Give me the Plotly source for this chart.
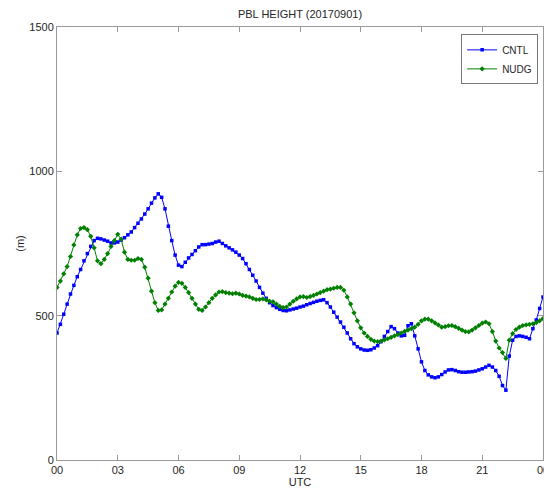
import plotly.graph_objects as go

# 10-minute time steps, 0h .. 24h
hours = [i / 6 for i in range(145)]

cntl = [
    440, 470, 505, 540, 575, 605,
    635, 660, 690, 715, 740, 760,
    768, 766, 762, 758, 752, 752,
    755, 762, 770, 780, 790, 805,
    820, 835, 852, 870, 890, 908,
    922, 910, 870, 810, 760, 710,
    675, 670, 685, 700, 712, 725,
    738, 746, 746, 748, 750, 755,
    758, 750, 742, 735, 728, 720,
    710, 698, 680, 660, 640, 620,
    598, 578, 560, 545, 535, 528,
    522, 518, 517, 520, 523, 526,
    530, 533, 538, 542, 546, 550,
    553, 555, 545, 530, 512, 495,
    478, 460, 440, 420, 403, 392,
    385, 381, 380, 382, 388, 396,
    410, 428, 445, 462, 455, 440,
    430, 432, 465, 472, 430, 385,
    340, 310, 295, 288, 285, 288,
    296, 305, 312, 313, 310, 306,
    304, 304, 305, 306, 308, 312,
    316, 322, 328, 322, 310, 290,
    258, 242, 360, 415, 428, 430,
    428, 425, 420, 455, 485, 525,
    565,
]

nudg = [
    598, 620, 645, 670, 705, 745,
    780, 802, 805, 798, 775, 735,
    690, 680, 695, 715, 740, 760,
    782, 765, 720, 695, 692, 692,
    698, 695, 668, 630, 585, 545,
    518, 520, 540, 560, 582, 602,
    615, 612, 598, 580, 560, 540,
    522, 518, 530, 545, 560, 572,
    582, 583, 580, 578, 576, 578,
    575, 570, 568, 565, 560, 556,
    556, 558, 555, 550, 548, 540,
    532, 528, 530, 540, 550, 558,
    565, 566, 563, 566, 570, 575,
    580, 585, 590, 592, 595, 598,
    598, 588, 565, 540, 510, 482,
    458, 440, 428, 418, 412, 410,
    412, 416, 420, 425, 430, 434,
    440, 446, 450, 455, 460, 470,
    482, 488, 488, 482, 475, 468,
    460, 462, 465, 466, 462, 456,
    450, 445, 444, 450, 458, 466,
    474, 478, 472, 445, 412, 388,
    372, 352, 415, 438, 452, 460,
    466, 468, 470, 472, 476, 482,
    490,
]

x_tick_vals = [0, 3, 6, 9, 12, 15, 18, 21, 24]
x_tick_text = ["00", "03", "06", "09", "12", "15", "18", "21", "00"]
y_tick_vals = [0, 500, 1000, 1500]

FONT = "Liberation Sans, Arial, sans-serif"

fig = go.Figure()
fig.add_trace(go.Scatter(
    x=hours, y=cntl, name="CNTL", mode="lines+markers",
    line=dict(color="#0000FF", width=1),
    marker=dict(symbol="square", size=3.5, color="#0000FF"),
))
fig.add_trace(go.Scatter(
    x=hours, y=nudg, name="NUDG", mode="lines+markers",
    line=dict(color="#008000", width=1),
    marker=dict(symbol="diamond", size=4, color="#008000"),
))

axis_common = dict(
    showline=True, linecolor="#9a9a9a", linewidth=1, mirror="ticks",
    ticks="inside", ticklen=5, tickcolor="#9a9a9a",
    showgrid=False, zeroline=False, automargin=False,
    ticklabeloverflow="allow",
    tickfont=dict(family=FONT, size=11, color="#262626"),
)

# page body has an 8px margin, so the figure is drawn 8px in from the corner
fig.update_layout(
    width=544, height=486,
    margin=dict(l=49, r=9, t=19, b=34, autoexpand=False),
    paper_bgcolor="white", plot_bgcolor="white",
    title=dict(text="PBL HEIGHT (20170901)", x=0.5, xref="paper", xanchor="center",
               yref="container", y=0.988, yanchor="middle", automargin=False,
               font=dict(family=FONT, size=11, color="#262626")),
    xaxis=dict(range=[0, 24], tickvals=x_tick_vals, ticktext=x_tick_text,
               title=dict(text="UTC", standoff=2,
                          font=dict(family=FONT, size=11, color="#262626")),
               **axis_common),
    yaxis=dict(range=[0, 1500], tickvals=y_tick_vals,
               title=dict(text="(m)", standoff=2,
                          font=dict(family=FONT, size=11, color="#262626")),
               **axis_common),
    legend=dict(x=0.99, y=0.983, xanchor="right", yanchor="top",
                bgcolor="white", bordercolor="#777777", borderwidth=1,
                font=dict(family=FONT, size=10, color="#262626"),
                itemwidth=30, tracegroupgap=0),
    showlegend=True,
)

fig.write_html("out.html")
